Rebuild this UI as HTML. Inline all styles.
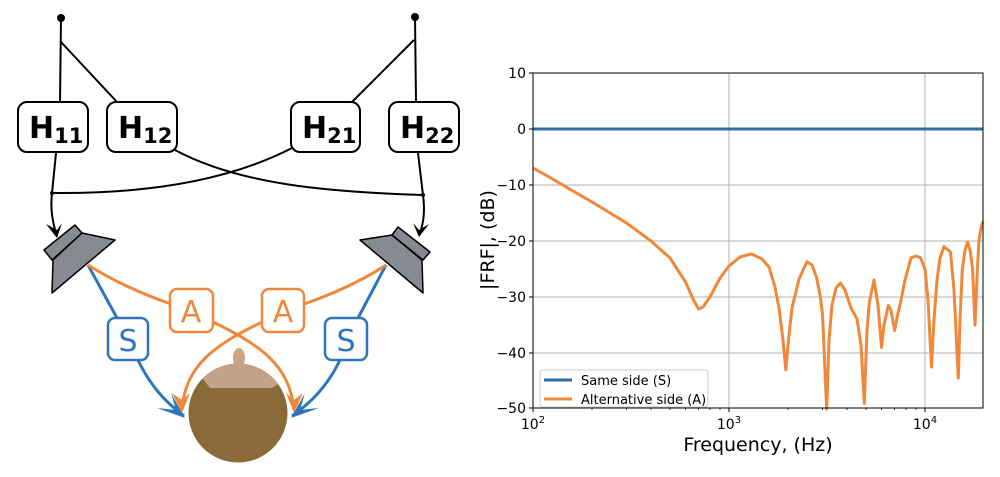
<!DOCTYPE html>
<html><head><meta charset="utf-8"><style>
body{margin:0;background:#fff;width:1000px;height:477px;overflow:hidden}
svg{position:absolute;left:0;top:0}
text{font-family:"DejaVu Sans","Liberation Sans",sans-serif}
</style></head><body>
<svg width="1000" height="477" viewBox="0 0 1000 477" xmlns="http://www.w3.org/2000/svg">
<defs>
<clipPath id="hc"><circle cx="238" cy="413" r="49.5"/></clipPath>
</defs>
<g stroke="#000" stroke-width="2" fill="none">
<circle cx="61" cy="18" r="4" fill="#000" stroke="none"/>
<circle cx="415" cy="17" r="4" fill="#000" stroke="none"/>
<line x1="61" y1="18" x2="60" y2="102"/>
<line x1="61" y1="42" x2="117" y2="102"/>
<line x1="415" y1="17" x2="416" y2="102"/>
<line x1="414" y1="40" x2="352" y2="102"/>
<line x1="56" y1="153" x2="52" y2="193"/>
<path d="M52 193 C150 194 230 180 292 148"/>
<path d="M175 150 C240 185 330 192 423 195"/>
<line x1="418" y1="153" x2="423" y2="195"/>
<path d="M52 193 C50 210 53 222 56 234"/>
<path d="M423 195 C425 210 424 222 420 232"/>
</g>
<circle cx="52" cy="193" r="2" fill="#000"/>
<circle cx="423" cy="195" r="2" fill="#000"/>
<path d="M46 224 L57 238 L62 223 L57 230 Z" fill="#000"/>
<path d="M429 224 L419 237 L413 223 L419 230 Z" fill="#000"/>
<g fill="#fff" stroke="#000" stroke-width="2">
<rect x="18" y="102" width="70" height="50" rx="9"/>
<rect x="107" y="102" width="70" height="50" rx="9"/>
<rect x="291" y="102" width="69" height="50" rx="9"/>
<rect x="389" y="102" width="70" height="50" rx="9"/>
</g>
<g font-weight="bold" fill="#000">
<text x="29" y="138" font-size="30">H<tspan font-size="21" dy="5">11</tspan></text>
<text x="118" y="138" font-size="30">H<tspan font-size="21" dy="5">12</tspan></text>
<text x="302" y="138" font-size="30">H<tspan font-size="21" dy="5">21</tspan></text>
<text x="400" y="138" font-size="30">H<tspan font-size="21" dy="5">22</tspan></text>
</g>
<g fill="#888a92" stroke="#000" stroke-width="1.5" stroke-linejoin="round">
<polygon points="53,260 82,233 115,240 52,293"/>
<polygon points="44,250 75,225 82,233 52,260"/>
<polygon points="422,260 392,235 360,240 423,293"/>
<polygon points="430,252 398,227 392,235 423,260"/>
</g>
<g stroke="#2e75bb" stroke-width="3" fill="none">
<line x1="88" y1="265" x2="117" y2="318"/>
<path d="M138 360 C150 385 165 402 184 416"/>
<line x1="386" y1="265" x2="358" y2="318"/>
<path d="M340 360 C328 385 312 402 292 416"/>
</g>
<path d="M157 408 L185 418 L171 393 L176 410 Z" fill="#2e75bb"/>
<path d="M319 408 L291 418 L305 393 L300 410 Z" fill="#2e75bb"/>
<g stroke="#f0883a" stroke-width="3" fill="none">
<path d="M88 265 C115 282 145 295 171 304"/>
<path d="M213 322 C260 345 290 365 294 410"/>
<path d="M386 265 C360 282 330 295 304 304"/>
<path d="M262 322 C215 345 185 365 182 410"/>
</g>
<path d="M172 393 L182 413 L190 393 L182 400 Z" fill="#f0883a"/>
<path d="M286 393 L294 413 L303 393 L294 400 Z" fill="#f0883a"/>
<g fill="#fff" stroke-width="2.5">
<rect x="108" y="318" width="40" height="42" rx="7" stroke="#2e75bb"/>
<rect x="325" y="318" width="42" height="42" rx="7" stroke="#2e75bb"/>
<rect x="170" y="289" width="43" height="43" rx="7" stroke="#f0883a"/>
<rect x="262" y="289" width="42" height="43" rx="7" stroke="#f0883a"/>
</g>
<g font-size="30" text-anchor="middle">
<text x="128" y="351" fill="#2e75bb">S</text>
<text x="346" y="351" fill="#2e75bb">S</text>
<text x="191" y="322" fill="#f0883a">A</text>
<text x="283" y="322" fill="#f0883a">A</text>
</g>
<ellipse cx="239" cy="358" rx="6" ry="10" fill="#c9a586"/>
<circle cx="238" cy="413" r="49.5" fill="#8b6a3a"/>
<g clip-path="url(#hc)"><path d="M180 350 L300 350 L300 370 L272 388 L210 388 L196 370 Z" fill="#c4a288"/></g>

<g stroke="#b0b0b0" stroke-width="1">
<line x1="729" y1="73" x2="729" y2="408"/>
<line x1="925" y1="73" x2="925" y2="408"/>
<line x1="533" y1="129" x2="983" y2="129"/>
<line x1="533" y1="185" x2="983" y2="185"/>
<line x1="533" y1="241" x2="983" y2="241"/>
<line x1="533" y1="297" x2="983" y2="297"/>
<line x1="533" y1="353" x2="983" y2="353"/>
</g>
<line x1="533" y1="129" x2="983" y2="129" stroke="#2e6fa8" stroke-width="3"/>
<polyline fill="none" stroke="#f0883a" stroke-width="3" stroke-linejoin="round" points="533,168 550,177.5 567.5,187.8 592,202 626.5,223 651,241 670,258 685.5,282 694,301 698.6,309 703,307 710,297 720,278 729,266 740,257 751.3,253.9 762,259 769,267 775,287 779,308 783,340 785.8,369.8 789,335 792,308 799,279 807,261.7 812,265 816.7,278 820,295 822.5,313.8 826.7,409 829,340 832,305 836,288 840.4,283 845,290 851,308 857,319 861,345 864.3,403.4 867,330 869.3,302.6 874,280 878,305 881.5,347.4 884,325 888.3,305.4 891,310 894.6,330.6 897,318 900.5,302.6 905,280 911,257.8 916,256 920.6,257.8 925,269 928,300 931.5,367 934,320 937,280 940,258 944,246.6 950.5,252 954,290 958.3,378 960,320 962.3,269 965,250 967.6,242 970,250 972.6,269 975,325 977.4,269 979,240 981,228 983,221.4"/>
<rect x="533" y="73" width="450" height="335" fill="none" stroke="#000" stroke-width="1"/>
<g stroke="#000" stroke-width="1">
<line x1="529" y1="73" x2="533" y2="73"/><line x1="529" y1="129" x2="533" y2="129"/>
<line x1="529" y1="185" x2="533" y2="185"/><line x1="529" y1="241" x2="533" y2="241"/>
<line x1="529" y1="297" x2="533" y2="297"/><line x1="529" y1="353" x2="533" y2="353"/>
<line x1="529" y1="408" x2="533" y2="408"/>
<line x1="533" y1="408" x2="533" y2="412"/><line x1="729" y1="408" x2="729" y2="412"/><line x1="925" y1="408" x2="925" y2="412"/>
</g>
<g stroke="#000" stroke-width="0.8">
<line x1="592" y1="408" x2="592" y2="410"/><line x1="626.5" y1="408" x2="626.5" y2="410"/><line x1="651" y1="408" x2="651" y2="410"/><line x1="670" y1="408" x2="670" y2="410"/><line x1="685.5" y1="408" x2="685.5" y2="410"/><line x1="698.6" y1="408" x2="698.6" y2="410"/><line x1="710" y1="408" x2="710" y2="410"/><line x1="720" y1="408" x2="720" y2="410"/>
<line x1="788" y1="408" x2="788" y2="410"/><line x1="822.5" y1="408" x2="822.5" y2="410"/><line x1="847" y1="408" x2="847" y2="410"/><line x1="866" y1="408" x2="866" y2="410"/><line x1="881.5" y1="408" x2="881.5" y2="410"/><line x1="894.6" y1="408" x2="894.6" y2="410"/><line x1="906" y1="408" x2="906" y2="410"/><line x1="916" y1="408" x2="916" y2="410"/>
</g>
<g font-size="14" fill="#000" text-anchor="end">
<text x="526" y="78">10</text><text x="526" y="134">0</text>
<text x="526" y="190">−10</text><text x="526" y="246">−20</text>
<text x="526" y="302">−30</text><text x="526" y="358">−40</text>
<text x="526" y="413">−50</text>
</g>
<g font-size="14" fill="#000" text-anchor="middle">
<text x="533" y="429">10<tspan font-size="10" dy="-6">2</tspan></text>
<text x="729" y="429">10<tspan font-size="10" dy="-6">3</tspan></text>
<text x="925" y="429">10<tspan font-size="10" dy="-6">4</tspan></text>
</g>
<text x="758" y="451" font-size="19" text-anchor="middle">Frequency, (Hz)</text>
<text transform="translate(494,240) rotate(-90)" font-size="19" text-anchor="middle">|FRF|, (dB)</text>
<rect x="540" y="370" width="168" height="37" rx="3" fill="#fff" fill-opacity="0.85" stroke="#ccc" stroke-width="1"/>
<line x1="544" y1="380" x2="572" y2="380" stroke="#2e6fa8" stroke-width="3"/>
<line x1="544" y1="399" x2="572" y2="399" stroke="#f0883a" stroke-width="3"/>
<text x="581" y="385" font-size="13">Same side (S)</text>
<text x="581" y="404" font-size="13">Alternative side (A)</text>
</svg>
</body></html>
